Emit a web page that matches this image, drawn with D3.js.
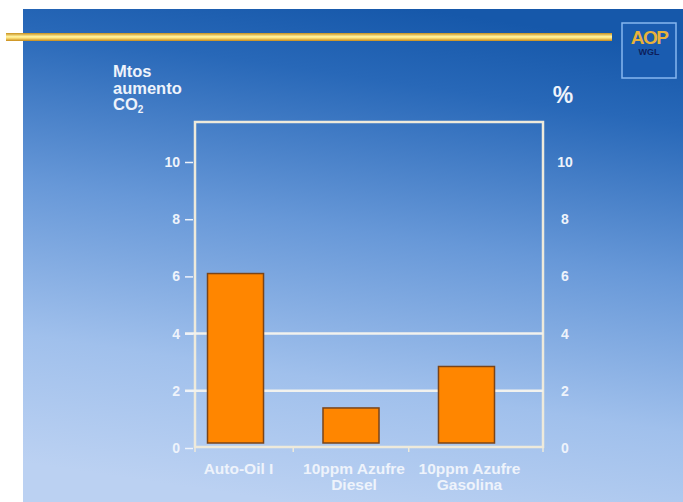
<!DOCTYPE html>
<head>
<meta charset="utf-8">
<title>Mtos aumento CO2</title>
<script type="text/javascript" src="https://d3js.org/d3.v7.min.js"></script>
<style>
  body { margin: 0; background: #fff; }
  svg { display: block; }
  text { font-family: "Liberation Sans", Arial, sans-serif; font-weight: bold; fill: #eef3fb; }
</style>
</head>

<body>
<div id="container"></div>
<script>
//----------------------------DATA------------------------------//
const categories = ["Auto-Oil I", "10ppm Azufre Diesel", "10ppm Azufre Gasolina"];
const categoryLines = [["Auto-Oil I"], ["10ppm Azufre", "Diesel"], ["10ppm Azufre", "Gasolina"]];
const values = [6.1, 1.4, 2.85];
const yTicks = [0, 2, 4, 6, 8, 10];
const gridValues = [2, 4];
const leftTitle = ["Mtos", "aumento", "CO"];
const rightTitle = "%";

//----------------------------SVG-------------------------------//
const width = 683;
const height = 502;

const svg = d3.select("div#container").append("svg")
    .attr("width", width)
    .attr("height", height);

const defs = svg.append("defs");

const bg = defs.append("linearGradient")
    .attr("id", "bg")
    .attr("x1", "0.6").attr("y1", "0")
    .attr("x2", "0.4").attr("y2", "1");
bg.append("stop").attr("offset", "0").attr("stop-color", "#1658aa");
bg.append("stop").attr("offset", "0.15").attr("stop-color", "#2868b8");
bg.append("stop").attr("offset", "0.45").attr("stop-color", "#6798d8");
bg.append("stop").attr("offset", "0.75").attr("stop-color", "#a0c0ec");
bg.append("stop").attr("offset", "1").attr("stop-color", "#bbd1f2");

const gold = defs.append("linearGradient")
    .attr("id", "gold")
    .attr("x1", "0").attr("y1", "0")
    .attr("x2", "0").attr("y2", "1");
gold.append("stop").attr("offset", "0").attr("stop-color", "#c8901c");
gold.append("stop").attr("offset", "0.45").attr("stop-color", "#fff2a0");
gold.append("stop").attr("offset", "0.6").attr("stop-color", "#ffe680");
gold.append("stop").attr("offset", "1").attr("stop-color", "#c88a18");

// blue slide background
svg.append("rect")
    .attr("x", 23).attr("y", 9)
    .attr("width", width - 23).attr("height", height - 9)
    .attr("fill", "url(#bg)");

// gold rule
svg.append("rect")
    .attr("x", 6).attr("y", 33)
    .attr("width", 606).attr("height", 8)
    .attr("fill", "url(#gold)");

// logo
const logo = svg.append("g").attr("transform", "translate(622,23)");
logo.append("rect")
    .attr("width", 54).attr("height", 55)
    .attr("fill", "#1a5cb0")
    .attr("stroke", "#86b6f0")
    .attr("stroke-width", 1.5);
logo.append("text")
    .attr("x", 27).attr("y", 21)
    .attr("text-anchor", "middle")
    .style("font-size", "19px")
    .style("fill", "#e8b23a")
    .style("letter-spacing", "-1.5px")
    .text("AOP");
logo.append("text")
    .attr("x", 27).attr("y", 32)
    .attr("text-anchor", "middle")
    .style("font-size", "9px")
    .style("fill", "#0d1f5c")
    .text("WGL");

//----------------------------SCALES----------------------------//
const frame = {left: 195, right: 543, top: 122, bottom: 447};

const x = d3.scaleBand()
    .domain(categories)
    .range([178, 524])
    .paddingInner(0.515)
    .paddingOuter(0.2555);

const y = d3.scaleLinear()
    .domain([0, 10])
    .range([448, 162]);

//----------------------------FRAME-----------------------------//
svg.append("rect")
    .attr("x", frame.left).attr("y", frame.top)
    .attr("width", frame.right - frame.left)
    .attr("height", frame.bottom - frame.top)
    .attr("fill", "none")
    .attr("stroke", "#eeeadb")
    .attr("stroke-width", 2.5);

svg.append("g")
    .selectAll("line")
    .data(gridValues)
    .enter().append("line")
    .attr("x1", 185).attr("x2", frame.right)
    .attr("y1", d => y(d)).attr("y2", d => y(d))
    .attr("stroke", "#f2f2ee")
    .attr("stroke-width", 2.5);

// ticks under the category axis, between the categories
const bounds = [frame.left].concat(categories.slice(1).map(c => x(c) - (x.step() - x.bandwidth()) / 2), [frame.right]);
svg.append("g")
    .selectAll("line")
    .data(bounds)
    .enter().append("line")
    .attr("x1", d => d).attr("x2", d => d)
    .attr("y1", frame.bottom).attr("y2", frame.bottom + 5)
    .attr("stroke", "#eeeadb")
    .attr("stroke-width", 1.5);

//-----------------------------AXES-----------------------------//
const yaxisL = d3.axisLeft(y)
    .tickValues(yTicks)
    .tickSize(8)
    .tickPadding(5)
    .tickFormat(d3.format("d"));

const gL = svg.append("g")
    .attr("transform", "translate(" + (frame.left - 2) + ",0)")
    .call(yaxisL);
gL.select(".domain").remove();
gL.selectAll(".tick line").attr("stroke", "#eef3fb").attr("stroke-width", 1.5);
gL.selectAll(".tick text")
    .style("font-size", "14px")
    .style("font-family", "'Liberation Sans', Arial, sans-serif")
    .attr("fill", "#eef3fb");

const yaxisR = d3.axisRight(y)
    .tickValues(yTicks)
    .tickSize(0)
    .tickPadding(22)
    .tickFormat(d3.format("d"));

const gR = svg.append("g")
    .attr("transform", "translate(" + frame.right + ",0)")
    .call(yaxisR);
gR.select(".domain").remove();
gR.selectAll(".tick text")
    .attr("text-anchor", "middle")
    .style("font-size", "14px")
    .style("font-family", "'Liberation Sans', Arial, sans-serif")
    .attr("fill", "#eef3fb");

//----------------------------BARS------------------------------//
svg.append("g")
    .selectAll("rect")
    .data(values)
    .enter().append("rect")
    .attr("x", (d, i) => x(categories[i]))
    .attr("y", d => y(d))
    .attr("width", x.bandwidth())
    .attr("height", d => y(0) - y(d) - 5)
    .attr("fill", "#ff8600")
    .attr("stroke", "#7a4418")
    .attr("stroke-width", 1.5);

//---------------------------LABELS-----------------------------//
svg.append("g")
    .selectAll("text")
    .data(categoryLines)
    .enter().append("text")
    .attr("text-anchor", "middle")
    .attr("transform", (d, i) => "translate(" + (x(categories[i]) + x.bandwidth() / 2 + 3) + ",474)")
    .style("font-size", "15.5px")
    .each(function(d) {
        d3.select(this).selectAll("tspan")
            .data(d)
            .enter().append("tspan")
            .attr("x", 0)
            .attr("y", (t, j) => j * 16)
            .text(t => t);
    });

const title = svg.append("text")
    .attr("x", 113).attr("y", 77)
    .style("font-size", "16.5px");
title.selectAll("tspan")
    .data(leftTitle)
    .enter().append("tspan")
    .attr("x", 113)
    .attr("y", (d, i) => 77 + i * 16.5)
    .text(d => d);
title.append("tspan")
    .attr("dy", 3)
    .style("font-size", "10px")
    .text("2");

svg.append("text")
    .attr("x", 563).attr("y", 103)
    .attr("text-anchor", "middle")
    .style("font-size", "23px")
    .text(rightTitle);
</script>
</body>
